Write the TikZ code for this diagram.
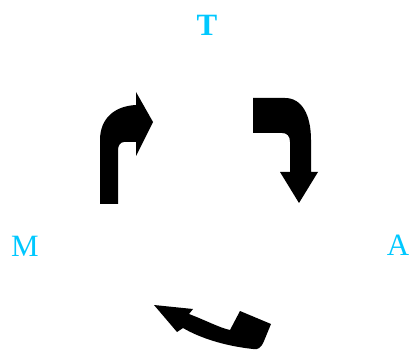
\documentclass[tikz,border=0pt]{standalone}
\usepackage{fontspec}
\setmainfont{Liberation Serif}
\usepackage{xcolor}
\usetikzlibrary{positioning}
\definecolor{phasecyan}{RGB}{0,200,255}
\tikzset{
    phase/.style={
        text=phasecyan,
        inner sep=0pt,
        font=\fontsize{31}{31}\selectfont
    },
    bentarrow/.style={
        fill=black,
        draw=none
    }
}

\begin{document}
\begin{tikzpicture}[x=1pt, y=-1pt]
    \useasboundingbox (0,0) rectangle (411,352);

    \node (tnode) [phase, font=\fontsize{31}{31}\selectfont\bfseries] at (207,25.5) {T};
    \node (mnode) [phase] at (25,246) {M};
    \node (anode) [phase] at (398,245.5) {A};

    % M -> T
    \fill [bentarrow] (100,204) -- (100,140)
        .. controls (100,118) and (115,106) .. (136,105)
        -- (136,92) -- (153,122) -- (136,156) -- (136,142) -- (124,142)
        .. controls (120,142) and (118,146) .. (118,150)
        -- (118,204) -- cycle;

    % T -> A
    \fill [bentarrow] (253,98) -- (285,98)
        .. controls (302,98) and (311,115) .. (311,140)
        -- (311,172) -- (318,172) -- (299,203) -- (280,172) -- (290,172)
        -- (290,142) .. controls (290,136) and (287,133) .. (282,133)
        -- (253,133) -- cycle;

    % A -> M
    \fill [bentarrow] (154,305) -- (193,309) -- (189,314)
        .. controls (205,320) and (220,328) .. (230,330)
        -- (240,311) -- (271,324) -- (264,341)
        .. controls (261,348) and (258,350) .. (253,349)
        .. controls (225,346) and (200,338) .. (183,328)
        -- (177,332) -- cycle;
\end{tikzpicture}
\end{document}
